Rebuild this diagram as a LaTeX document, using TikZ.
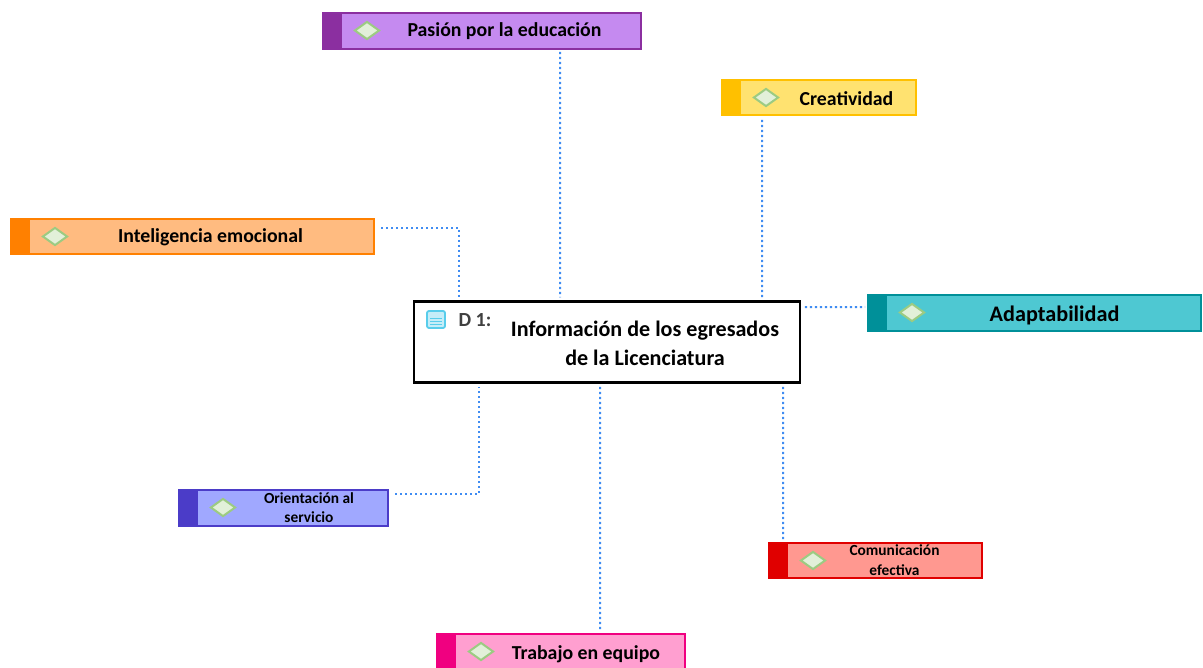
\documentclass[tikz,border=0pt]{standalone}
\usepackage{fontspec}
\setmainfont{Carlito}
\usetikzlibrary{shapes.geometric}

\definecolor{enlacecol}{HTML}{3F8CF2}
\definecolor{rombofill}{HTML}{E2F0D9}
\definecolor{rombodraw}{HTML}{9CCB82}
\definecolor{iconocol}{HTML}{58CDEB}

\tikzset{
  caja/.style={draw, line width=1.8pt, inner sep=0pt, anchor=north west},
  banda/.style={inner sep=0pt, anchor=north west, minimum width=20pt},
  rombito/.style={diamond, draw=rombodraw, fill=rombofill, line width=2pt, inner sep=0pt, minimum width=25pt, minimum height=18pt},
  titulo/.style={inner sep=0pt, align=center, font=\bfseries\fontsize{19.8}{28}\selectfont},
  enlace/.style={draw=enlacecol, line width=2pt, dash pattern=on 2.2pt off 2.8pt},
}

\begin{document}
\begin{tikzpicture}[x=1pt, y=-1pt]
    \useasboundingbox (0, 0) rectangle (1203, 668);

    % cajas
    \foreach \nombre/\xa/\ya/\ancho/\alto/\cband/\cfill in {
      pasion/322/12/320/38/8B2FA0/C58AF0,
      creatividad/721/79/196/37/FFC000/FFE270,
      inteligencia/10/218/365/37/FF8000/FFBB80,
      adaptabilidad/867/294/335/38/009099/4EC8D2,
      orientacion/178/489/211/38/4B3CC8/A0A8FF,
      comunicacion/768/542/215/37/E00000/FF9890,
      trabajo/436/633/250/40/F00080/FF9FD0} {
      \definecolor{colband}{HTML}{\cband}
      \definecolor{colfill}{HTML}{\cfill}
      \node[caja, draw=colband, fill=colfill, minimum width=\ancho pt - 1.8pt, minimum height=\alto pt - 1.8pt] (\nombre) at (\xa, \ya) {};
      \node[banda, fill=colband, minimum height=\alto pt] (\nombre b) at (\xa, \ya) {};
      \node[rombito] (\nombre r) at (\xa + 45, \ya + 18.5) {};
    }

    \node[titulo] (tpasion) at (504.5, 31) {Pasión por la educación};
    \node[titulo] (tcreatividad) at (846.5, 98.5) {Creatividad};
    \node[titulo] (tinteligencia) at (210.5, 237) {Inteligencia emocional};
    \node[titulo, font=\bfseries\fontsize{22.2}{28}\selectfont] (tadaptabilidad) at (1054.5, 315) {Adaptabilidad};
    \node[titulo, font=\bfseries\fontsize{15.4}{19.5}\selectfont] (torientacion) at (309, 507.5) {Orientación al\\servicio};
    \node[titulo, font=\bfseries\fontsize{15.4}{19.5}\selectfont] (tcomunicacion) at (894.5, 560) {Comunicación\\efectiva};
    \node[titulo] (ttrabajo) at (586, 654) {Trabajo en equipo};

    % dato central
    \node[caja, draw=black, fill=white, line width=2.4pt, minimum width=386pt, minimum height=81pt] (dato) at (412.5, 300.5) {};
    \node[titulo, font=\bfseries\fontsize{22.1}{29}\selectfont] (tdato) at (645, 343) {Información de los egresados\\de la Licenciatura};
    \node[inner sep=0pt, text=black!75, font=\bfseries\fontsize{20}{20}\selectfont] (ddato) at (475, 320) {D 1:};
    \node[draw=iconocol, fill=iconocol!35, rounded corners=2pt, line width=1.8pt, minimum width=18pt, minimum height=17pt, inner sep=0pt] (icono) at (436, 319.5) {};
    \foreach \dy in {-1, 2, 5}
      \draw[iconocol, line width=1.2pt] ([xshift=-6pt, yshift=-\dy pt]icono.center) -- ([xshift=6pt, yshift=-\dy pt]icono.center);

    % enlaces
    \draw[enlace] ([xshift=78pt, yshift=-2pt]pasion.south) -- ([xshift=-46.5pt, yshift=3pt]dato.north);
    \draw[enlace] ([xshift=-57pt, yshift=-4pt]creatividad.south) -- ([xshift=155.5pt, yshift=3pt]dato.north);
    \draw[enlace] ([xshift=6pt, yshift=8.5pt]inteligencia.east) -| ([xshift=-147.5pt, yshift=3pt]dato.north);
    \draw[enlace] ([xshift=4pt, yshift=35pt]dato.east) -- ([xshift=-2pt, yshift=6pt]adaptabilidad.west);
    \draw[enlace] ([xshift=6pt, yshift=14pt]orientacion.east) -| ([xshift=-127.5pt, yshift=-3pt]dato.south);
    \draw[enlace] ([xshift=-6.5pt, yshift=-3pt]dato.south) -- ([xshift=39pt, yshift=3pt]trabajo.north);
    \draw[enlace] ([xshift=176.5pt, yshift=-3pt]dato.south) -- ([xshift=-92.5pt, yshift=2pt]comunicacion.north);
  \end{tikzpicture}
\end{document}
